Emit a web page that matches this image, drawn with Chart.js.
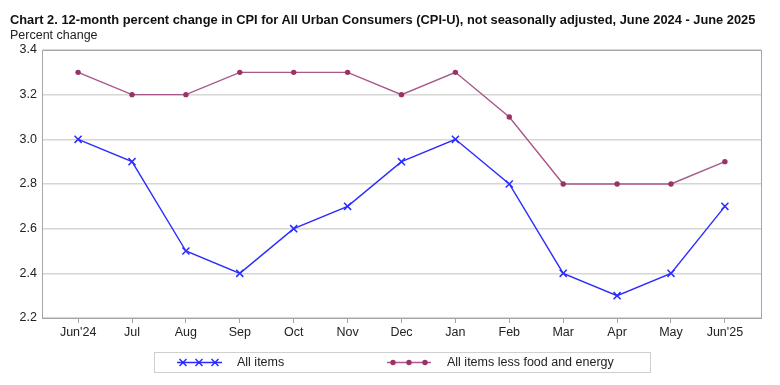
<!DOCTYPE html>
<html lang="en">
<head>
<meta charset="UTF-8">
<title>12-month percent change in CPI-U</title>
<script src="https://cdn.jsdelivr.net/npm/chart.js"></script>
<style>
  body { margin: 0; background: #fff; font-family: "Liberation Sans", Arial, sans-serif; }
  #wrap { position: relative; width: 780px; height: 385px; }
  #myChart { position: absolute; left: 0; top: 0; }
  .title { position: absolute; left: 10px; top: 12px; font-size: 12.85px; font-weight: bold; color: #111; white-space: nowrap; }
  .ylab { position: absolute; left: 10px; top: 28px; font-size: 12.5px; color: #222; }
  .leg { position: absolute; top: 355px; font-size: 12.5px; color: #222; white-space: nowrap; }
</style>
</head>
<body>
<div id="wrap">
  <canvas id="myChart" width="780" height="385"></canvas>
  <div class="title">Chart 2. 12-month percent change in CPI for All Urban Consumers (CPI-U), not seasonally adjusted, June 2024 - June 2025</div>
  <div class="ylab">Percent change</div>
  <div class="leg" style="left:237px">All items</div>
  <div class="leg" style="left:447px">All items less food and energy</div>
</div>
<script>
  // data
  const months = ["Jun'24", "Jul", "Aug", "Sep", "Oct", "Nov", "Dec", "Jan", "Feb", "Mar", "Apr", "May", "Jun'25"];
  const allItems = [3.0, 2.9, 2.5, 2.4, 2.6, 2.7, 2.9, 3.0, 2.8, 2.4, 2.3, 2.4, 2.7];
  const coreItems = [3.3, 3.2, 3.2, 3.3, 3.3, 3.3, 3.2, 3.3, 3.1, 2.8, 2.8, 2.8, 2.9];
  const yTicks = [2.2, 2.4, 2.6, 2.8, 3.0, 3.2, 3.4];

  const blue = '#2b2bff';
  const plum = '#a8578a';
  const plumDot = '#993366';

  // box around plot + legend drawn on the canvas
  const frame = {
    id: 'frame',
    afterDraw(chart) {
      const c = chart.ctx, a = chart.chartArea;
      c.save();
      c.strokeStyle = '#a6a6a6';
      c.lineWidth = 1;
      c.strokeRect(Math.round(a.left) + 0.5, Math.round(a.top) + 0.5,
        Math.round(a.right - a.left), Math.round(a.bottom - a.top));

      // legend box
      c.strokeStyle = '#cfcfcf';
      c.strokeRect(154.5, 352.5, 496, 20);
      const y = 362.5;
      // all items sample
      c.strokeStyle = blue; c.lineWidth = 1.5;
      c.beginPath(); c.moveTo(177, y); c.lineTo(222, y); c.stroke();
      [183, 199, 215].forEach(x => {
        c.beginPath();
        c.moveTo(x - 3.5, y - 3.5); c.lineTo(x + 3.5, y + 3.5);
        c.moveTo(x - 3.5, y + 3.5); c.lineTo(x + 3.5, y - 3.5);
        c.stroke();
      });
      // core sample
      c.strokeStyle = plum;
      c.beginPath(); c.moveTo(387, y); c.lineTo(431, y); c.stroke();
      c.fillStyle = plumDot;
      [393, 409, 425].forEach(x => {
        c.beginPath(); c.arc(x, y, 2.7, 0, Math.PI * 2); c.fill();
      });
      c.restore();
    }
  };

  const ctx = document.getElementById('myChart').getContext('2d');
  new Chart(ctx, {
    type: 'line',
    data: {
      datasets: [
        {
          label: 'All items',
          data: allItems.map((v, i) => ({ x: i, y: v })),
          borderColor: blue,
          borderWidth: 1.4,
          pointStyle: 'crossRot',
          pointRadius: 5,
          pointBorderColor: blue,
          pointBorderWidth: 1.5,
          tension: 0
        },
        {
          label: 'All items less food and energy',
          data: coreItems.map((v, i) => ({ x: i, y: v })),
          borderColor: plum,
          borderWidth: 1.4,
          pointStyle: 'circle',
          pointRadius: 2.7,
          pointBackgroundColor: plumDot,
          pointBorderColor: plumDot,
          pointBorderWidth: 0,
          tension: 0
        }
      ]
    },
    options: {
      responsive: false,
      animation: false,
      layout: { padding: { left: 0, right: 19, top: 50, bottom: 37 } },
      plugins: { legend: { display: false }, tooltip: { enabled: false } },
      scales: {
        x: {
          type: 'linear',
          min: -0.67,
          max: 12.67,
          afterBuildTicks: s => { s.ticks = months.map((m, i) => ({ value: i })); },
          afterFit: s => { s.height = 30; },
          ticks: {
            callback: v => months[v],
            color: '#222',
            font: { family: 'Liberation Sans', size: 12.5 },
            maxRotation: 0,
            autoSkip: false,
            padding: 2
          },
          grid: { drawOnChartArea: false, drawTicks: true, tickLength: 5, color: '#a6a6a6' },
          border: { color: '#a6a6a6' }
        },
        y: {
          min: 2.2,
          max: 3.4,
          afterBuildTicks: s => { s.ticks = yTicks.map(v => ({ value: v })); },
          afterFit: s => { s.width = 42; },
          ticks: {
            callback: v => v.toFixed(1),
            color: '#222',
            font: { family: 'Liberation Sans', size: 12.5 },
            padding: 5
          },
          grid: { color: '#d6d6d6', drawTicks: false, lineWidth: 1.5 },
          border: { color: '#a6a6a6' }
        }
      }
    },
    plugins: [frame]
  });
</script>
</body>
</html>
